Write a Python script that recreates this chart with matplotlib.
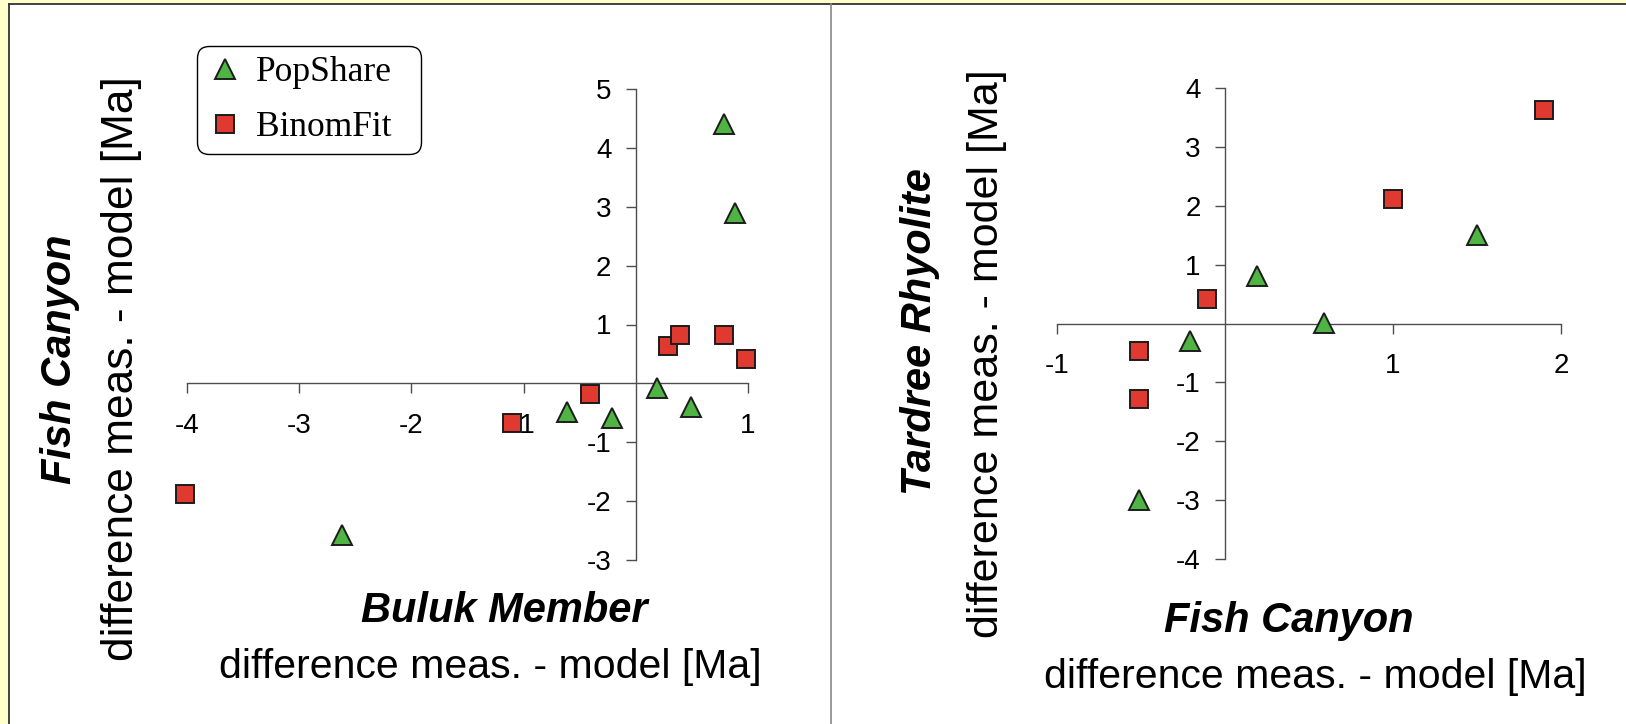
import matplotlib
matplotlib.use("Agg")
import matplotlib.pyplot as plt
from matplotlib.patches import Rectangle
from matplotlib.lines import Line2D

plt.rcParams["font.family"] = ["Liberation Sans", "DejaVu Sans"]
plt.rcParams["axes.unicode_minus"] = False

W, H = 1626, 724

# Buluk Member (x) against Fish Canyon (y)
buluk_pop_x = [-2.62, -0.61, -0.21, 0.19, 0.49, 0.79, 0.88]
buluk_pop_y = [-2.58, -0.48, -0.58, -0.08, -0.40, 4.40, 2.90]
buluk_bin_x = [-4.02, -1.10, -0.41, 0.29, 0.39, 0.79, 0.98]
buluk_bin_y = [-1.88, -0.68, -0.18, 0.63, 0.82, 0.82, 0.42]

# Fish Canyon (x) against Tardree Rhyolite (y)
tardree_pop_x = [-0.51, -0.21, 0.19, 0.59, 1.50]
tardree_pop_y = [-3.00, -0.29, 0.80, 0.01, 1.50]
tardree_bin_x = [-0.51, -0.51, -0.11, 1.00, 1.90]
tardree_bin_y = [-1.28, -0.46, 0.42, 2.11, 3.63]

left_xticks = [-4, -3, -2, -1, 1]
left_yticks = [-3, -2, -1, 1, 2, 3, 4, 5]
right_xticks = [-1, 1, 2]
right_yticks = [-4, -3, -2, -1, 1, 2, 3, 4]

series_names = ["PopShare", "BinomFit"]

GREEN = "#4fb443"
RED = "#e0392f"
EDGE = "#1c1c1c"
AXIS = "#4d4d4d"

pop_style = dict(ls="none", marker="^", ms=14, mfc=GREEN, mec=EDGE, mew=1.4)
bin_style = dict(ls="none", marker="s", ms=13.5, mfc=RED, mec=EDGE, mew=1.4)


def fx(px):
    return px / W


def fy(py):
    return 1 - py / H


fig = plt.figure(figsize=(W / 100, H / 100), dpi=100, facecolor="#ffffcc")

# white page with dark top/left edge and grey divider between the two plots
fig.add_artist(Rectangle((fx(9), 0), 1 - fx(9), fy(4), transform=fig.transFigure,
                         facecolor="white", edgecolor="none", zorder=-2))
fig.add_artist(Line2D([fx(9), 1], [fy(4), fy(4)], transform=fig.transFigure,
                      color="#333333", lw=1.3, zorder=-1))
fig.add_artist(Line2D([fx(9), fx(9)], [0, fy(4)], transform=fig.transFigure,
                      color="#333333", lw=1.3, zorder=-1))
fig.add_artist(Line2D([fx(831), fx(831)], [0, fy(4)], transform=fig.transFigure,
                      color="#888888", lw=1.2, zorder=-1))


def cross_axes(ax, xlim, ylim, xticks, yticks):
    ax.set_facecolor("none")
    ax.set_xlim(*xlim)
    ax.set_ylim(*ylim)
    for side in ("top", "right"):
        ax.spines[side].set_visible(False)
    for side in ("left", "bottom"):
        ax.spines[side].set_position(("data", 0))
        ax.spines[side].set_color(AXIS)
        ax.spines[side].set_linewidth(1.0)
    ax.set_xticks(xticks)
    ax.set_yticks(yticks)
    ax.tick_params(axis="both", direction="out", length=7, width=1.0,
                   color=AXIS, labelsize=20, labelcolor="black")
    ax.tick_params(axis="x", pad=14)
    ax.tick_params(axis="y", pad=10.5)


ax1 = fig.add_axes([fx(187), fy(560), (748 - 187) / W, (560 - 89) / H])
cross_axes(ax1, (-4, 1), (-3, 5), left_xticks, left_yticks)
ax1.plot(buluk_pop_x, buluk_pop_y, clip_on=False, zorder=5, **pop_style)
ax1.plot(buluk_bin_x, buluk_bin_y, clip_on=False, zorder=5, **bin_style)

ax2 = fig.add_axes([fx(1057), fy(559), (1561 - 1057) / W, (559 - 88) / H])
cross_axes(ax2, (-1, 2), (-4, 4), right_xticks, right_yticks)
ax2.plot(tardree_pop_x, tardree_pop_y, clip_on=False, zorder=5, **pop_style)
ax2.plot(tardree_bin_x, tardree_bin_y, clip_on=False, zorder=5, **bin_style)

# axis titles
unit = "difference meas. - model [Ma]"
bold = dict(fontsize=30, fontweight="bold", fontstyle="italic")
rot = dict(rotation=90, rotation_mode="anchor", ha="center", va="baseline")
hor = dict(ha="center", va="baseline")

fig.text(fx(71), fy(359), "Fish Canyon", **bold, **rot)
fig.text(fx(133), fy(369), unit, fontsize=31.9, **rot)
fig.text(fx(504), fy(622), "Buluk Member", **bold, **hor)
fig.text(fx(490), fy(678), unit, fontsize=29.5, **hor)

fig.text(fx(931), fy(332), "Tardree Rhyolite", **bold, **rot)
fig.text(fx(998), fy(354), unit, fontsize=31.0, **rot)
fig.text(fx(1289), fy(632), "Fish Canyon", **bold, **hor)
fig.text(fx(1315), fy(688), unit, fontsize=29.5, **hor)

handles = [Line2D([], [], **pop_style), Line2D([], [], **bin_style)]
leg = fig.legend(handles, series_names, loc="upper left",
                 bbox_to_anchor=(fx(197), fy(152), (421 - 197) / W, (152 - 46) / H),
                 mode="expand", borderaxespad=0, borderpad=0.28,
                 labelspacing=0.63, handlelength=1.0, handletextpad=0.38,
                 fancybox=True, framealpha=1, edgecolor="black",
                 prop=dict(family="Liberation Serif", size=25.5))
leg.get_frame().set_linewidth(1.0)
leg.get_frame().set_boxstyle("round", pad=0, rounding_size=0.35)

fig.savefig("out.png", dpi=100, facecolor=fig.get_facecolor())
